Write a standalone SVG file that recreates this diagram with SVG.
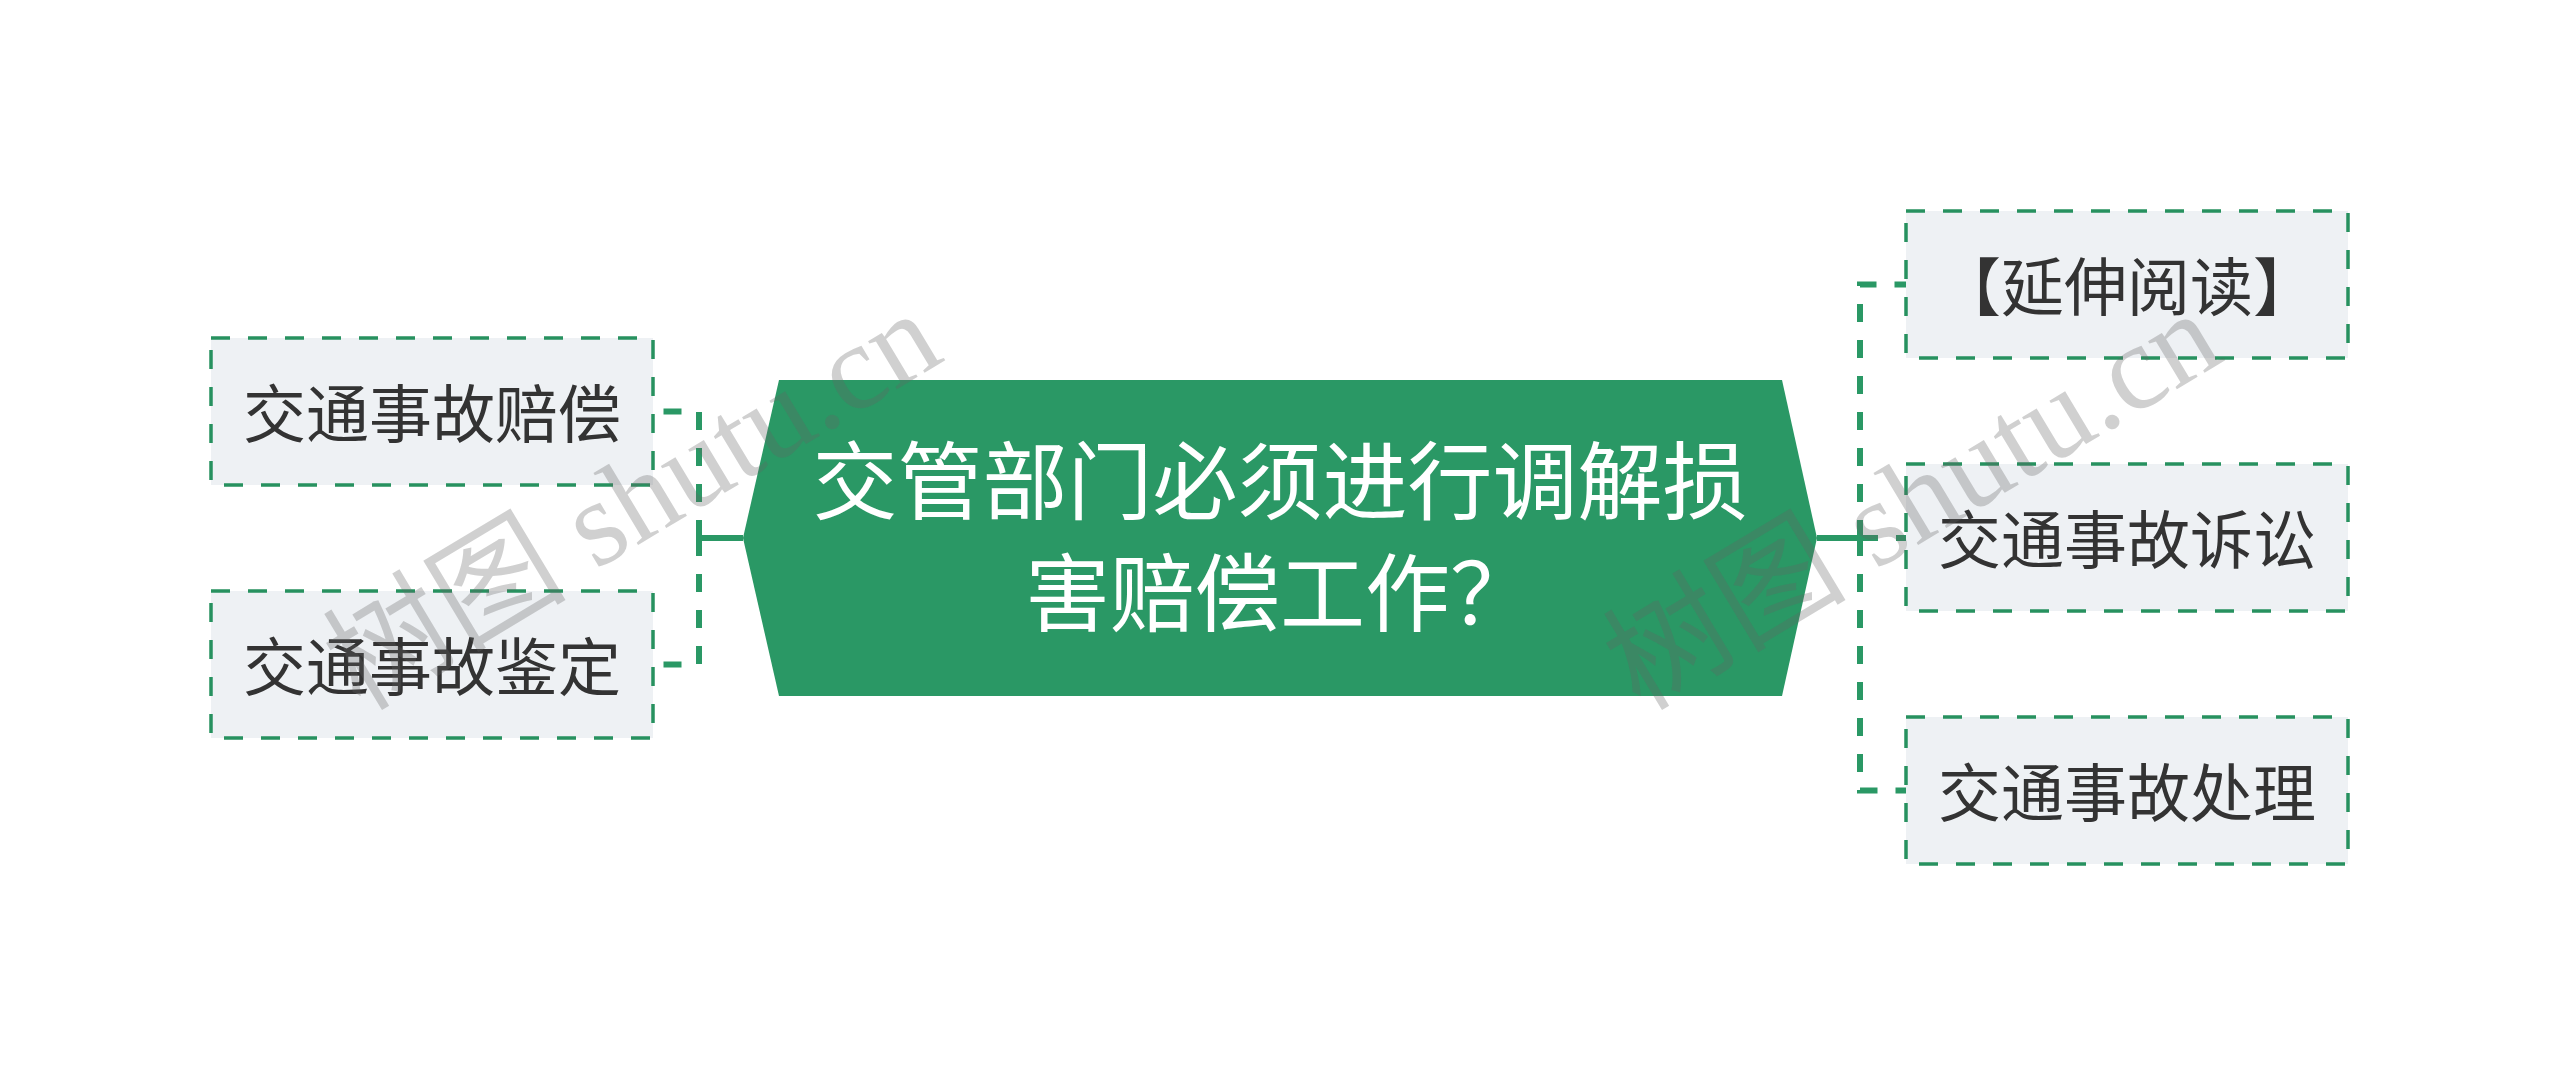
<svg xmlns="http://www.w3.org/2000/svg" width="2560" height="1076" viewBox="0 0 2560 1076">
<style>
.box{fill:#eef1f4;stroke:#27915f;stroke-width:3.5;stroke-dasharray:19 18}
.lbl{font-family:"Noto Sans CJK SC","Noto Sans",sans-serif;font-size:63px;fill:#333333;text-anchor:middle}
.main{font-family:"Noto Sans CJK SC","Noto Sans",sans-serif;font-size:85px;fill:#ffffff;text-anchor:middle}
.trunk{fill:none;stroke:#2a9865;stroke-width:6}
.branch{fill:none;stroke:#2a9865;stroke-width:6;stroke-dasharray:18 18;stroke-linejoin:miter}
.wm{font-family:"Liberation Serif","Noto Sans CJK SC",serif;font-size:122px;fill:#646464;fill-opacity:0.3}
</style>
<rect width="2560" height="1076" fill="#ffffff"/>
<g id="connectors">
<path class="trunk" d="M743,538 H699"/>
<path class="branch" d="M699,538 V411.5 H653"/>
<path class="branch" d="M699,538 V664.5 H653"/>
<path class="trunk" d="M1817,538 H1860"/>
<path class="branch" d="M1860,538 V284.5 H1906"/>
<path class="branch" d="M1860,538 H1906"/>
<path class="branch" d="M1860,538 V790.5 H1906"/>
</g>
<g id="center">
<polygon points="779,380 1782,380 1817,538 1782,696 779,696 743,538" fill="#2a9865"/>
<text class="main" x="1280" y="513">交管部门必须进行调解损</text>
<text class="main" x="1280" y="625">害赔偿工作？</text>
</g>
<g id="left1">
<rect class="box" x="211" y="338" width="442" height="147"/>
<text class="lbl" x="432" y="437">交通事故赔偿</text>
</g>
<g id="left2">
<rect class="box" x="211" y="591" width="442" height="147"/>
<text class="lbl" x="432" y="690">交通事故鉴定</text>
</g>
<g id="right1">
<rect class="box" x="1906" y="211" width="442" height="147"/>
<text class="lbl" x="2127" y="310">【延伸阅读】</text>
</g>
<g id="right2">
<rect class="box" x="1906" y="464" width="442" height="147"/>
<text class="lbl" x="2127" y="563">交通事故诉讼</text>
</g>
<g id="right3">
<rect class="box" x="1906" y="717" width="442" height="147"/>
<text class="lbl" x="2127" y="816">交通事故处理</text>
</g>
<g id="watermark">
<text class="wm" x="360" y="712" transform="rotate(-31 360 712)">树图 shutu.cn</text>
<text class="wm" x="1640" y="712" transform="rotate(-31 1640 712)">树图 shutu.cn</text>
</g>
</svg>
